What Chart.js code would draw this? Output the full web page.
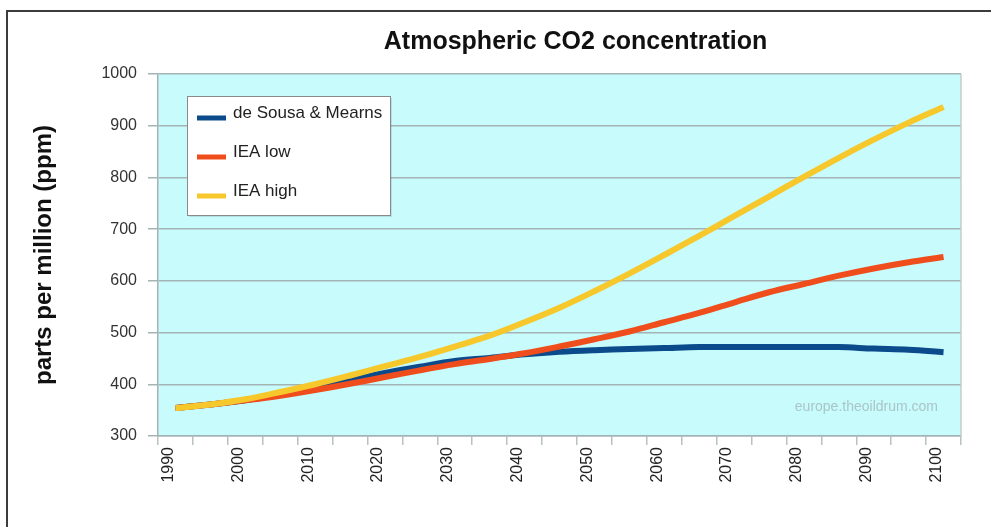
<!DOCTYPE html>
<html>
<head>
<meta charset="utf-8">
<script src="https://cdn.jsdelivr.net/npm/chart.js@4.4.1/dist/chart.umd.min.js"></script>
<style>
  html, body { margin: 0; padding: 0; background: #ffffff; overflow: hidden; }
  #frame {
    position: absolute; left: 6px; top: 10px; width: 1100px; height: 600px;
    border-left: 2px solid #3c3c3c; border-top: 2px solid #3c3c3c;
  }
  #c { position: absolute; left: 0; top: 0; }
</style>
</head>
<body>
<div id="frame"></div>
<canvas id="c" width="991" height="527"></canvas>
<script>
// Years on the horizontal axis (5-year steps)
const years = ['1990','1995','2000','2005','2010','2015','2020','2025','2030','2035','2040','2045',
               '2050','2055','2060','2065','2070','2075','2080','2085','2090','2095','2100'];

// CO2 concentration in ppm for each scenario
const deSousaMearns = [354, 361, 369, 380, 393, 408, 422, 434, 445, 451, 458, 463,
                       466, 468, 470, 472, 472, 472, 472, 472, 469, 467, 462];
const ieaLow        = [354, 361, 369, 378, 389, 401, 414, 427, 439, 449, 460, 473,
                       487, 502, 520, 538, 558, 578, 594, 610, 624, 636, 646];
const ieaHigh       = [354, 361, 371, 385, 400, 417, 435, 453, 473, 494, 520, 548,
                       580, 614, 650, 687, 725, 763, 801, 838, 873, 906, 936];

const seriesNames  = ['de Sousa & Mearns', 'IEA low', 'IEA high'];
const seriesColors = ['#0b4a8b', '#f04d1c', '#f6c82c'];

const titleText = 'Atmospheric CO2 concentration';
const yTitle = 'parts per million (ppm)';
const sourceNote = 'europe.theoildrum.com';

const FONT = '"Liberation Sans", Arial, Helvetica, sans-serif';

// Light cyan plot background and thin plot border
const plotBackground = {
  id: 'plotBackground',
  beforeDraw(chart) {
    const { ctx, chartArea: a } = chart;
    ctx.save();
    ctx.fillStyle = '#c8fbfc';
    ctx.fillRect(a.left, a.top, a.right - a.left, a.bottom - a.top);
    ctx.restore();
  },
  beforeDatasetsDraw(chart) {
    const { ctx, chartArea: a } = chart;
    ctx.save();
    ctx.strokeStyle = '#c3cccc';
    ctx.lineWidth = 1.5;
    ctx.beginPath();
    ctx.moveTo(a.right, a.top);
    ctx.lineTo(a.right, a.bottom);
    ctx.stroke();
    // source note in the lower right corner
    ctx.font = '14px ' + FONT;
    ctx.fillStyle = '#a9c5c9';
    ctx.textAlign = 'right';
    ctx.textBaseline = 'middle';
    ctx.fillText(sourceNote, a.right - 23, a.bottom - 29);
    ctx.restore();
  }
};

// Chart heading above the plot
const heading = {
  id: 'heading',
  afterDraw(chart) {
    const { ctx, chartArea: a } = chart;
    ctx.save();
    ctx.font = 'bold 25px ' + FONT;
    ctx.fillStyle = '#111111';
    ctx.textAlign = 'center';
    ctx.textBaseline = 'middle';
    ctx.fillText(titleText, (a.left + a.right) / 2 + 16, 42);
    ctx.restore();
  }
};

// Boxed legend inside the plot, top left
const boxLegend = {
  id: 'boxLegend',
  afterDatasetsDraw(chart) {
    const { ctx, chartArea: a } = chart;
    const x = a.left + 29, y = a.top + 22, w = 203, h = 119;
    ctx.save();
    ctx.fillStyle = 'rgba(0,0,0,0.10)';
    ctx.fillRect(x + 2, y + 2, w, h);
    ctx.fillStyle = '#ffffff';
    ctx.fillRect(x, y, w, h);
    ctx.strokeStyle = '#8a8a8a';
    ctx.lineWidth = 1;
    ctx.strokeRect(x + 0.5, y + 0.5, w, h);
    ctx.font = '17px ' + FONT;
    ctx.fillStyle = '#222222';
    ctx.textAlign = 'left';
    ctx.textBaseline = 'alphabetic';
    chart.data.datasets.forEach((ds, i) => {
      const cy = y + 22 + i * 39;
      ctx.strokeStyle = ds.borderColor;
      ctx.lineWidth = 5;
      ctx.beginPath();
      ctx.moveTo(x + 10, cy);
      ctx.lineTo(x + 39, cy);
      ctx.stroke();
      ctx.fillText(ds.label, x + 46, cy - 0.5);
    });
    ctx.restore();
  }
};

const makeSet = (i, values, order) => ({
  label: seriesNames[i],
  data: values,
  borderColor: seriesColors[i],
  backgroundColor: seriesColors[i],
  borderWidth: 6,
  pointRadius: 0,
  tension: 0.35,
  fill: false,
  order: order
});

new Chart(document.getElementById('c'), {
  type: 'line',
  data: {
    labels: years,
    datasets: [
      makeSet(0, deSousaMearns, 3),
      makeSet(1, ieaLow, 2),
      makeSet(2, ieaHigh, 1)
    ]
  },
  options: {
    responsive: false,
    animation: false,
    layout: { padding: { left: 10, top: 74, right: 30, bottom: 0 } },
    plugins: {
      legend: { display: false },
      title: { display: false },
      tooltip: { enabled: false }
    },
    scales: {
      x: {
        type: 'category',
        offset: true,
        afterFit(scale) { scale.height = 91; },
        grid: {
          drawOnChartArea: false,
          offset: true,
          tickLength: 9,
          color: '#b9c2c2',
          lineWidth: 1.5
        },
        border: { display: true, color: '#a4b4b5', width: 1.5 },
        ticks: {
          autoSkip: false,
          minRotation: 90,
          maxRotation: 90,
          padding: 2,
          labelOffset: -7,
          color: '#222222',
          font: { family: FONT, size: 16 },
          callback(value, index) {
            const y = years[index];
            return Number(y) % 10 === 0 ? y : '';
          }
        }
      },
      y: {
        min: 300,
        max: 1000,
        afterFit(scale) { scale.width = 148; },
        grid: {
          color: '#a4b4b5',
          lineWidth: 1.5,
          tickLength: 10
        },
        border: { display: true, color: '#a4b4b5', width: 1.5 },
        ticks: {
          stepSize: 100,
          padding: 11,
          color: '#333333',
          font: { family: FONT, size: 16 },
          callback(value) { return String(value); }
        },
        title: {
          display: true,
          text: yTitle,
          color: '#111111',
          padding: { top: 20, bottom: 0 },
          font: { family: FONT, size: 24, weight: 'bold' }
        }
      }
    }
  },
  plugins: [plotBackground, heading, boxLegend]
});
</script>
</body>
</html>
